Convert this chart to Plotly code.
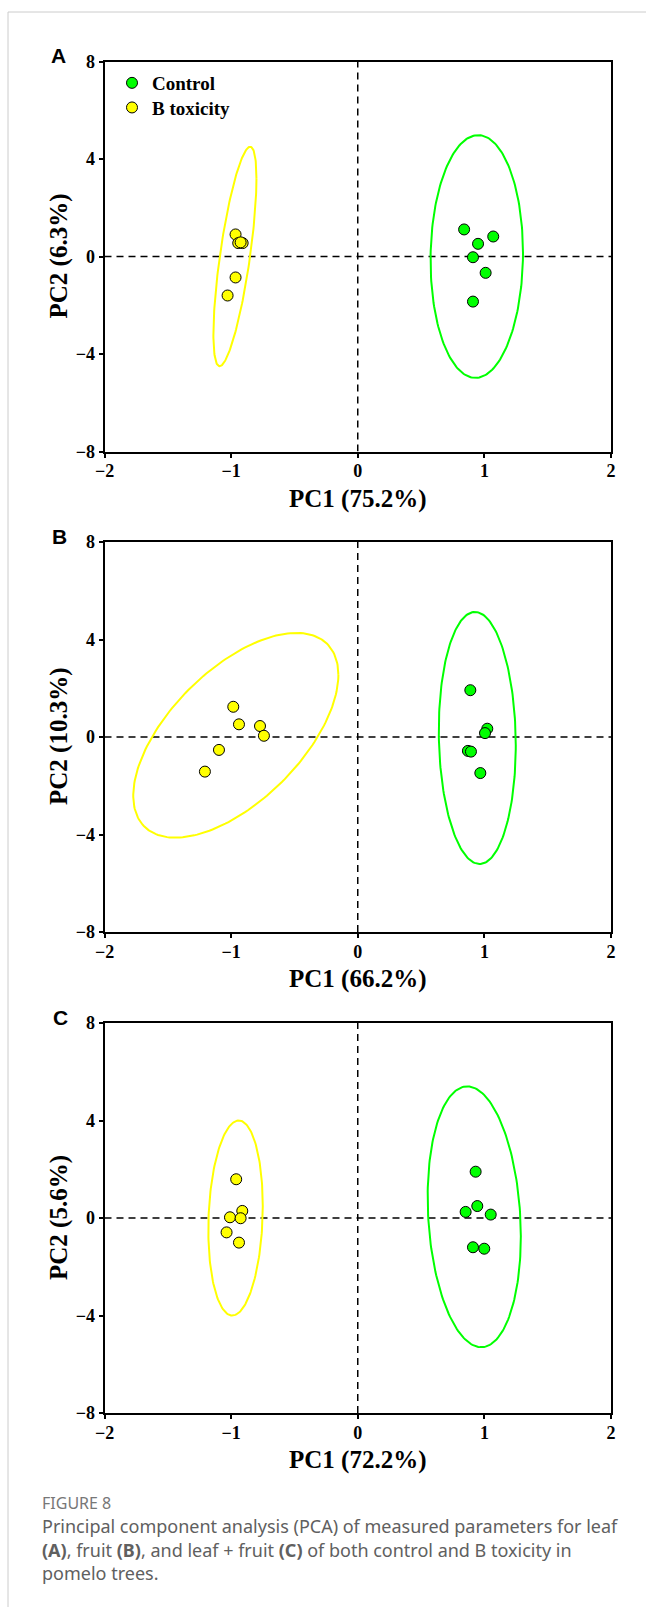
import numpy as np
import plotly.graph_objects as go

# ---------------- data ----------------
panels = ["A", "B", "C"]
pc1_labels = ["PC1 (75.2%)", "PC1 (66.2%)", "PC1 (72.2%)"]
pc2_labels = ["PC2 (6.3%)", "PC2 (10.3%)", "PC2 (5.6%)"]
group_names = ["Control", "B toxicity"]

A_ctrl_x = [0.84, 1.07, 0.95, 0.91, 1.01, 0.91]
A_ctrl_y = [1.11, 0.82, 0.52, -0.03, -0.67, -1.85]
A_btox_x = [-0.965, -0.944, -0.909, -0.925, -0.965, -1.028]
A_btox_y = [0.905, 0.55, 0.55, 0.58, -0.86, -1.60]

B_ctrl_x = [0.889, 1.023, 1.005, 0.870, 0.894, 0.968]
B_ctrl_y = [1.92, 0.34, 0.16, -0.57, -0.60, -1.48]
B_btox_x = [-0.983, -0.938, -0.772, -0.741, -1.096, -1.207]
B_btox_y = [1.24, 0.52, 0.45, 0.05, -0.53, -1.42]

C_ctrl_x = [0.931, 0.944, 0.852, 1.05, 0.91, 0.999]
C_ctrl_y = [1.90, 0.49, 0.25, 0.14, -1.20, -1.26]
C_btox_x = [-0.96, -0.912, -1.009, -0.925, -1.036, -0.938]
C_btox_y = [1.59, 0.29, 0.03, -0.01, -0.59, -1.01]

# confidence ellipses: centre x, centre y, sd x, sd y, correlation
A_ctrl_ell = [0.94, 0.0, 0.365, 4.98, 0.03]
A_btox_ell = [-0.97, 0.0, 0.17, 4.5, 0.71]
B_ctrl_ell = [0.944, -0.04, 0.304, 5.17, -0.06]
B_btox_ell = [-0.963, 0.07, 0.81, 4.2, 0.59]
C_ctrl_ell = [0.92, 0.05, 0.368, 5.35, -0.15]
C_btox_ell = [-0.965, 0.0, 0.215, 4.0, 0.12]

x_ticks = [-2, -1, 0, 1, 2]
y_ticks = [-8, -4, 0, 4, 8]

caption_head = "FIGURE 8"
caption_lines = [
    "Principal component analysis (PCA) of measured parameters for leaf",
    "<b>(A)</b>, fruit <b>(B)</b>, and leaf + fruit <b>(C)</b> of both control and B toxicity in",
    "pomelo trees.",
]

# ---------------- layout constants ----------------
W, H = 646, 1607
GREEN, YELLOW = "#00FF00", "#FFFF00"
SERIF = "Liberation Serif"

def px_x(p):
    return p / W

def px_y(p):
    return 1 - p / H

X_LEFT, X_RIGHT = 104.5, 611.0
panel_tops = [61.5, 542.0, 1023.0]
PANEL_H = 390.0

def ellipse(params, n=200):
    cx, cy, sx, sy, r = params
    t = np.linspace(0, 2 * np.pi, n)
    phi = np.arccos(r)
    return cx + sx * np.cos(t), cy + sy * np.cos(t - phi)

data = [
    (A_ctrl_x, A_ctrl_y, A_btox_x, A_btox_y, A_ctrl_ell, A_btox_ell),
    (B_ctrl_x, B_ctrl_y, B_btox_x, B_btox_y, B_ctrl_ell, B_btox_ell),
    (C_ctrl_x, C_ctrl_y, C_btox_x, C_btox_y, C_ctrl_ell, C_btox_ell),
]

fig = go.Figure()
layout = dict(
    width=W, height=H,
    margin=dict(l=0, r=0, t=0, b=0, autoexpand=False),
    paper_bgcolor="white", plot_bgcolor="white",
    showlegend=True,
)
shapes = []
annotations = []

for i, (cx, cy, bx, by, ce, be) in enumerate(data):
    k = "" if i == 0 else str(i + 1)
    xa, ya = "x" + k, "y" + k
    top = panel_tops[i]
    bottom = top + PANEL_H
    axis_common = dict(
        showline=True, linewidth=2, linecolor="black", mirror=True,
        ticks="outside", ticklen=4, tickwidth=1.5, tickcolor="black",
        showgrid=False, zeroline=False, automargin=False,
        tickfont=dict(family=SERIF, size=18, color="black", weight="bold"),
    )
    layout["xaxis" + k] = dict(axis_common, domain=[px_x(X_LEFT), px_x(X_RIGHT)],
                               range=[-2, 2], tickvals=x_ticks, anchor=ya,
                               ticklabelstandoff=-2)
    layout["yaxis" + k] = dict(axis_common, domain=[px_y(bottom), px_y(top)],
                               range=[-8, 8], tickvals=y_ticks, anchor=xa)

    # ellipses
    for params, col in ((ce, GREEN), (be, YELLOW)):
        ex, ey = ellipse(params)
        fig.add_trace(go.Scatter(x=ex, y=ey, mode="lines", xaxis=xa, yaxis=ya,
                                 line=dict(color=col, width=2), showlegend=False,
                                 hoverinfo="skip"))
    # points
    for xs, ys, col, name, leg in ((cx, cy, GREEN, group_names[0], "legend"),
                                   (bx, by, YELLOW, group_names[1], "legend2")):
        fig.add_trace(go.Scatter(x=xs, y=ys, mode="markers", xaxis=xa, yaxis=ya, name=name,
                                 marker=dict(color=col, size=11, line=dict(color="black", width=1)),
                                 showlegend=(i == 0), legend=leg))

    # dashed zero lines
    dash = dict(color="black", width=1.5, dash="7px,5px")
    shapes.append(dict(type="line", xref=xa, yref=ya, x0=0, x1=0, y0=-8, y1=8, line=dash, layer="below"))
    shapes.append(dict(type="line", xref=xa, yref=ya, x0=-2, x1=2, y0=0, y1=0, line=dash, layer="below"))

    # axis titles
    mid_y = top + PANEL_H / 2
    annotations.append(dict(text=pc1_labels[i], xref="paper", yref="paper",
                            x=px_x((X_LEFT + X_RIGHT) / 2), y=px_y(bottom + 47),
                            xanchor="center", yanchor="middle", showarrow=False,
                            font=dict(family=SERIF, size=25, color="black", weight="bold")))
    annotations.append(dict(text=pc2_labels[i], xref="paper", yref="paper",
                            x=px_x(59), y=px_y(mid_y), textangle=-90,
                            xanchor="center", yanchor="middle", showarrow=False,
                            font=dict(family=SERIF, size=25, color="black", weight="bold")))
    # panel letter
    annotations.append(dict(text=panels[i], xref="paper", yref="paper",
                            x=px_x(58 + i), y=px_y(top - 6),
                            xanchor="center", yanchor="middle", showarrow=False,
                            font=dict(family="Liberation Sans", size=21, color="black", weight="bold")))

# caption
annotations.append(dict(text=caption_head, xref="paper", yref="paper",
                        x=px_x(39.5), y=px_y(1503), xanchor="left", yanchor="middle",
                        showarrow=False, font=dict(family="Noto Sans", size=16, color="#777777")))
for j, line in enumerate(caption_lines):
    annotations.append(dict(text=line, xref="paper", yref="paper",
                            x=px_x(39.5), y=px_y(1526 + 23.7 * j), xanchor="left", yanchor="middle",
                            showarrow=False, font=dict(family="Noto Sans", size=18, color="#606060")))

# card border
shapes.append(dict(type="line", xref="paper", yref="paper", x0=px_x(8), x1=1.0,
                   y0=px_y(12), y1=px_y(12), line=dict(color="#cccccc", width=1)))
shapes.append(dict(type="line", xref="paper", yref="paper", x0=px_x(8), x1=px_x(8),
                   y0=px_y(12), y1=0, line=dict(color="#cccccc", width=1)))

layout["shapes"] = shapes
layout["annotations"] = annotations
legend_style = dict(xanchor="left", yanchor="top", bgcolor="rgba(0,0,0,0)", borderwidth=0,
                    font=dict(family=SERIF, size=19, color="black", weight="bold"))
layout["legend"] = dict(legend_style, x=px_x(112), y=px_y(64))
layout["legend2"] = dict(legend_style, x=px_x(112), y=px_y(88.6))
fig.update_layout(**layout)
fig.write_html("out.html", post_script="document.body.style.margin='0';")
